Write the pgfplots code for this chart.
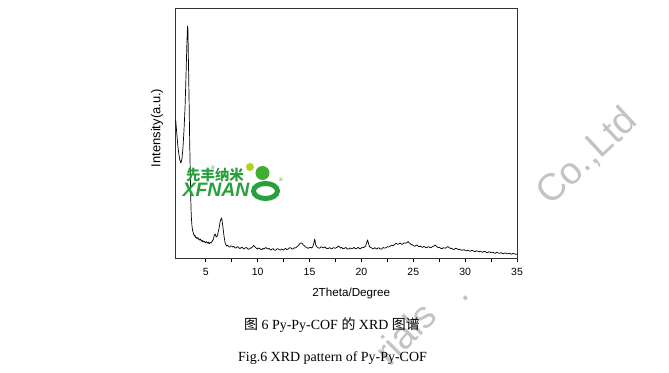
\documentclass[border=0pt]{standalone}
\usepackage{fontspec}
\usepackage{pgfplots}
\pgfplotsset{compat=1.18}
\setmainfont{Liberation Serif}
\newfontfamily\arial{Liberation Sans}
\newfontfamily\cjk{Noto Sans CJK SC}
\definecolor{xfgreen}{RGB}{40,160,60}
\definecolor{xflime}{RGB}{180,210,30}
\definecolor{wm}{RGB}{195,195,195}
\begin{document}
\begin{tikzpicture}
\path[use as bounding box] (0,0) rectangle (669bp,373bp);
% watermark
\node[rotate=43, text=wm, inner sep=0, font=\arial\fontsize{38}{40}\selectfont] at (587bp,216bp) {Co.,Ltd};
\node[rotate=45, text=wm, inner sep=0, font=\arial\fontsize{38}{40}\selectfont] at (405bp,40bp) {rials};
\node[rotate=45, text=wm, inner sep=0, font=\arial\fontsize{38}{40}\selectfont] at (466bp,75bp) {.};
\begin{axis}[
  at={(175.7bp,115bp)}, anchor=south west,
  scale only axis, width=341.3bp, height=250bp,
  xmin=2.1, xmax=35, ymin=0, ymax=250,
  xtick={5,10,...,35}, minor x tick num=1,
  ytick=\empty,
  xtick pos=bottom, tick align=outside,
  major tick length=4.5bp, minor tick length=4.5bp,
  every tick/.style={black, line width=0.6bp},
  axis line style={line width=0.8bp, black!80},
  /pgf/number format/assume math mode=true,
  ticklabel style={font=\arial\fontsize{10.5}{12}\selectfont},
  xticklabel style={yshift=-2bp},
  xlabel={2Theta/Degree},
  ylabel={Intensity(a.u.)},
  xlabel style={font=\arial\fontsize{11.7}{13}\selectfont, at={(axis description cs:0.514,-0.14)}, anchor=center},
  ylabel style={font=\arial\fontsize{13}{15}\selectfont, at={(axis description cs:-0.055,0.52)}, anchor=center},
  clip=false,
]
\addplot[black, line width=0.7bp, line join=round] coordinates {
(2.10,138) (2.20,125) (2.30,113) (2.40,104) (2.50,98) (2.60,95) (2.70,99) (2.80,110) (2.90,128)
(3.00,150) (3.10,185) (3.18,215) (3.24,232) (3.28,228) (3.33,195) (3.39,158) (3.45,115) (3.50,88)
(3.55,60) (3.60,42) (3.66,33) (3.72,28) (3.80,25) (3.90,22) (3.95,23) (4.00,21) (4.05,20.2) (4.10,20.8) (4.15,19.6) (4.20,19.5) (4.25,20.3) (4.30,19)
(4.35,18.2) (4.40,18) (4.45,19.1) (4.50,18.5) (4.55,17.5) (4.60,17) (4.65,17.8) (4.70,16.5) (4.75,16) (4.80,17) (4.85,16.7) (4.90,16) (4.95,15.2) (5.00,15.5) (5.05,16.4) (5.10,16) (5.15,15.1) (5.20,15)
(5.25,15.8) (5.30,14.5) (5.35,14.2) (5.40,15.5) (5.45,15.6) (5.50,15) (5.55,15.9) (5.60,16.5) (5.65,17.6) (5.70,18) (5.75,19.5) (5.80,22) (5.85,23.4) (5.90,24) (5.95,22.6) (6.00,21) (6.05,21.4) (6.10,22)
(6.15,23.6) (6.20,26) (6.25,28.5) (6.30,31) (6.35,34.2) (6.40,37) (6.45,38.6) (6.50,40) (6.55,39) (6.60,35) (6.65,31) (6.70,27) (6.75,22.5) (6.80,19) (6.85,16) (6.90,14) (6.95,13.2)
(7.0,12) (7.1,12.8) (7.2,11.5) (7.3,10.8) (7.4,12) (7.5,11.9) (7.6,11) (7.7,11.6) (7.8,10.5) (7.9,9.8)
(8.0,11) (8.1,11.3) (8.2,10) (8.3,9.4) (8.4,10.5) (8.5,10.9) (8.6,9.5) (8.7,8.9) (8.8,10) (8.9,10.6)
(9.0,9.5) (9.1,8.8) (9.2,9) (9.3,9.9) (9.4,10) (9.5,11) (9.6,12.5) (9.7,11.7) (9.8,10.5) (9.9,9.6)
(10.0,9) (10.1,10) (10.2,9.5) (10.3,8.6) (10.4,8.5) (10.5,9.6) (10.6,9) (10.7,9.8) (10.8,10.5) (10.9,9.4)
(11.0,9) (11.1,9.6) (11.2,8.5) (11.3,7.9) (11.4,9) (11.5,9.3) (11.6,8) (11.7,7.6) (11.8,8.5) (11.9,9.4)
(12.0,9) (12.1,8.2) (12.2,8) (12.3,9) (12.4,8.5) (12.5,7.8) (12.6,9) (12.7,9.6) (12.8,8.5) (12.9,8.8)
(13.0,9.5) (13.1,10.4) (13.2,10) (13.3,9.1) (13.4,9) (13.5,10.2) (13.6,10) (13.7,10.3) (13.8,11.5) (13.9,12.2)
(14.0,13.5) (14.1,14.8) (14.2,15) (14.3,14.5) (14.4,13) (14.5,12.4) (14.6,11) (14.7,10.8) (14.8,10) (14.9,9.7)
(15.0,10.5) (15.1,10.6) (15.2,10) (15.3,11) (15.4,14) (15.5,19) (15.6,13) (15.7,11.4) (15.8,10.5) (15.9,9.8)
(16.0,10) (16.1,11.2) (16.2,11) (16.3,10.2) (16.4,10.5) (16.5,11.1) (16.6,10) (16.7,9.3) (16.8,9.5) (16.9,10.3)
(17.0,10) (17.1,9.2) (17.2,9.5) (17.3,10.4) (17.4,10) (17.5,9.8) (17.6,10.5) (17.7,11) (17.8,12) (17.9,11)
(18.0,10) (18.1,10.6) (18.2,9.5) (18.3,9.2) (18.4,10) (18.5,10.5) (18.6,9.5) (18.7,8.9) (18.8,9) (18.9,10.1)
(19.0,9.5) (19.1,9.1) (19.2,10) (19.3,10.6) (19.4,9.5) (19.5,9.2) (19.6,10) (19.7,10.7) (19.8,9.5) (19.9,9.3)
(20.0,10) (20.1,10.9) (20.2,10.5) (20.3,11) (20.4,12) (20.5,15) (20.6,18) (20.7,14) (20.8,11) (20.9,10.6)
(21.0,10) (21.1,9.3) (21.2,9.5) (21.3,10.3) (21.4,9.5) (21.5,9) (21.6,10) (21.7,10.2) (21.8,9) (21.9,8.8)
(22.0,9.5) (22.1,10.5) (22.2,10) (22.3,9.9) (22.4,10.5) (22.5,11.3) (22.6,11) (22.7,11.2) (22.8,12) (22.9,12.8)
(23.0,12.5) (23.1,12.6) (23.2,13.5) (23.3,14.4) (23.4,14.5) (23.5,13.6) (23.6,14) (23.7,15) (23.8,14.5) (23.9,13.6)
(24.0,14) (24.1,15.2) (24.2,15) (24.3,14.6) (24.4,15.5) (24.5,16.5) (24.6,15) (24.7,14.6) (24.8,13.5) (24.9,13.2)
(25.0,12.5) (25.1,11.8) (25.2,12) (25.3,13) (25.4,12.5) (25.5,11.6) (25.6,11.5) (25.7,12) (25.8,11) (25.9,10.6)
(26.0,11.5) (26.1,11.3) (26.2,10.5) (26.3,10.3) (26.4,11) (26.5,11.4) (26.6,10.5) (26.7,10.2) (26.8,11) (26.9,11.6)
(27.0,12) (27.1,13) (27.2,12) (27.3,11) (27.4,10.5) (27.5,10.6) (27.6,10) (27.7,9.4) (27.8,9.5) (27.9,10.3)
(28.0,10) (28.1,9.8) (28.2,10.5) (28.3,11.3) (28.4,11) (28.5,10.1) (28.6,9.5) (28.7,9.8) (28.8,9) (28.9,8.5)
(29.0,9) (29.1,9.7) (29.2,9.5) (29.3,8.7) (29.4,8.5) (29.5,8.9) (29.6,8) (29.7,7.6) (29.8,8) (29.9,8.4)
(30.0,7.5) (30.1,7.1) (30.2,7.5) (30.3,7.9) (30.4,7) (30.5,6.7) (30.6,7.5) (30.7,7.6) (30.8,7) (30.9,6.4)
(31.0,6.5) (31.1,7.2) (31.2,7) (31.3,6.3) (31.4,6.5) (31.5,6.9) (31.6,6) (31.7,5.7) (31.8,6.5) (31.9,6.6)
(32.0,6) (32.1,5.3) (32.2,5.5) (32.3,6.2) (32.4,6) (32.5,5.2) (32.6,5.5) (32.7,5.9) (32.8,5) (32.9,4.7)
(33.0,5.5) (33.1,5.6) (33.2,5) (33.3,4.6) (33.4,5) (33.5,5.3) (33.6,4.5) (33.7,4.2) (33.8,5) (33.9,4.9)
(34.0,4.5) (34.1,4.1) (34.2,4.5) (34.3,4.8) (34.4,4) (34.5,3.8) (34.6,4.5) (34.7,4.4) (34.8,4) (34.9,3.7)
(35.0,4)
};
\end{axis}
% logo
\node[text=xfgreen, font=\cjk\bfseries\fontsize{14.5}{16}\selectfont, inner sep=0] at (215bp,198bp) {先丰纳米};
\node[text=xfgreen, font=\arial\bfseries\itshape\fontsize{19.5}{21}\selectfont, inner sep=0] at (216bp,183bp) {XFNAN};
\draw[xfgreen, line width=5bp] (265.5bp,182bp) ellipse [x radius=12bp, y radius=7.5bp];
\fill[xflime] (250bp,206bp) circle (4bp);
\fill[xfgreen!85!lime] (262.5bp,200bp) circle (7bp);
\node[text=xfgreen, font=\arial\fontsize{5}{6}\selectfont, inner sep=0] at (213bp,205bp) {®};
\node[text=xfgreen, font=\arial\fontsize{5}{6}\selectfont, inner sep=0] at (281bp,193bp) {®};
% caption
\node[font=\fontsize{14}{16}\selectfont, inner sep=0] at (332bp,48bp) {{\cjk 图} 6 Py-Py-COF {\cjk 的} XRD {\cjk 图谱}};
\node[font=\fontsize{14}{16}\selectfont, inner sep=0] at (332.5bp,15bp) {Fig.6 XRD pattern of Py-Py-COF};
\end{tikzpicture}
\end{document}
